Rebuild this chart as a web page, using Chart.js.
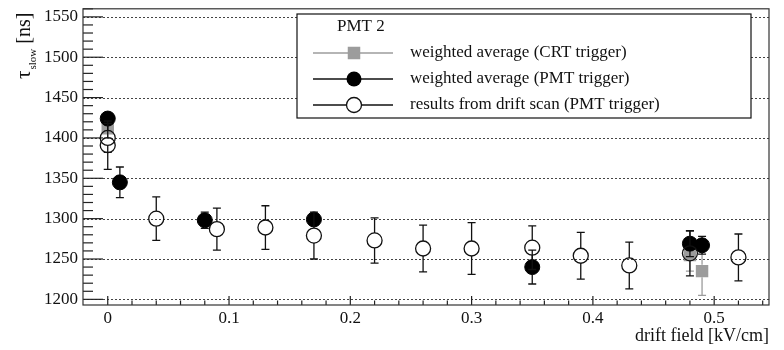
<!DOCTYPE html>
<html><head><meta charset="utf-8">
<script src="https://cdn.jsdelivr.net/npm/chart.js@4.4.0/dist/chart.umd.min.js"></script>
<style>html,body{margin:0;padding:0;background:#fff;}#wrap{width:784px;height:350px;position:relative;}</style>
</head><body><div id="wrap"><canvas id="c" width="784" height="350"></canvas></div>
<script>
// ---- data ----
const scanX   = [0, 0, 0.04, 0.09, 0.13, 0.17, 0.22, 0.26, 0.30, 0.35, 0.39, 0.43, 0.48, 0.52];
const scanY   = [1400, 1391, 1300, 1287, 1289, 1279, 1273, 1263, 1263, 1264, 1254, 1242, 1257, 1252];
const scanErr = [18, 30, 27, 26, 27, 29, 28, 29, 32, 27, 29, 29, 28, 29];

const pmtX   = [0, 0.01, 0.08, 0.17, 0.35, 0.48, 0.49];
const pmtY   = [1424, 1345, 1298, 1299, 1240, 1269, 1267];
const pmtErr = [6, 19, 10, 6, 21, 16, 11];

const crtX   = [0, 0.48, 0.49];
const crtY   = [1412, 1255, 1235];
const crtErr = [12, 20, 30];

const yTicks = [1200, 1250, 1300, 1350, 1400, 1450, 1500, 1550];
const xTicks = [0, 0.1, 0.2, 0.3, 0.4, 0.5];
const xTickLabels = ['0', '0.1', '0.2', '0.3', '0.4', '0.5'];
const legendHeader = 'PMT 2';
const legendLabels = ['weighted average (CRT trigger)', 'weighted average (PMT trigger)', 'results from drift scan (PMT trigger)'];
const xTitle = 'drift field [kV/cm]';
const yTitleMain = '\u03C4', yTitleSub = 'slow', yTitleUnit = ' [ns]';

const FONT = "'Liberation Serif', 'Times New Roman', serif";
const GRAY = '#9c9c9c';

function pts(xs, ys) { return xs.map((x, i) => ({ x: x, y: ys[i] })); }

const errorBars = {
  id: 'errorBars',
  beforeDatasetDraw(chart, args) {
    const ds = chart.data.datasets[args.index];
    const ys = chart.scales.y;
    const ctx = chart.ctx;
    ctx.save();
    ctx.strokeStyle = ds.errColor;
    ctx.lineWidth = 1.3;
    args.meta.data.forEach((el, i) => {
      const v = ds.data[i].y, e = ds.errors[i];
      const x = el.x, yc = el.y;
      const yt = ys.getPixelForValue(v + e), yb = ys.getPixelForValue(v - e);
      const g = ds.gap;
      ctx.beginPath();
      if (yt < yc - g) { ctx.moveTo(x, yt); ctx.lineTo(x, yc - g); ctx.moveTo(x - 4, yt); ctx.lineTo(x + 4, yt); }
      if (yb > yc + g) { ctx.moveTo(x, yc + g); ctx.lineTo(x, yb); ctx.moveTo(x - 4, yb); ctx.lineTo(x + 4, yb); }
      ctx.stroke();
    });
    ctx.restore();
  }
};

const frame = {
  id: 'frame',
  beforeDatasetsDraw(chart) {
    const { ctx, chartArea: a, scales: { x: xs, y: ys } } = chart;
    ctx.save();
    ctx.strokeStyle = '#444';
    ctx.lineWidth = 1;
    ctx.setLineDash([2, 2]);
    yTicks.forEach(v => {
      const y = Math.round(ys.getPixelForValue(v)) + 0.5;
      ctx.beginPath(); ctx.moveTo(a.left, y); ctx.lineTo(a.right, y); ctx.stroke();
    });
    ctx.setLineDash([]);
    ctx.strokeStyle = '#222';
    ctx.lineWidth = 1.2;
    for (let k = 0; k < yTicks.length; k++) {
      const v = yTicks[k];
      const y = ys.getPixelForValue(v);
      ctx.beginPath(); ctx.moveTo(a.left, y); ctx.lineTo(a.left + 20, y); ctx.stroke();
      for (let m = 1; m < 5; m++) {
        const mv = v + m * 10;
        if (mv > ys.max) break;
        const my = ys.getPixelForValue(mv);
        ctx.beginPath(); ctx.moveTo(a.left, my); ctx.lineTo(a.left + 10, my); ctx.stroke();
      }
    }
    for (let k = 0; k < xTicks.length; k++) {
      const v = xTicks[k];
      const x = xs.getPixelForValue(v);
      ctx.beginPath(); ctx.moveTo(x, a.bottom); ctx.lineTo(x, a.bottom - 9); ctx.stroke();
      for (let m = 1; m < 5; m++) {
        const mv = v + m * 0.02;
        if (mv > xs.max) break;
        const mx = xs.getPixelForValue(mv);
        ctx.beginPath(); ctx.moveTo(mx, a.bottom); ctx.lineTo(mx, a.bottom - 4.5); ctx.stroke();
      }
    }
    ctx.strokeStyle = '#333';
    ctx.strokeRect(a.left, a.top, a.right - a.left, a.bottom - a.top);
    ctx.restore();
  },
  afterDraw(chart) {
    const { ctx, chartArea: a } = chart;
    ctx.save();
    ctx.fillStyle = '#111';
    ctx.font = '18px ' + FONT;
    ctx.textAlign = 'right'; ctx.textBaseline = 'middle';
    ctx.fillText(xTitle, a.right, 336);
    ctx.translate(30, 79);
    ctx.rotate(-Math.PI / 2);
    ctx.textAlign = 'left'; ctx.textBaseline = 'alphabetic';
    ctx.font = '21px ' + FONT;
    ctx.fillText(yTitleMain, 0, 0);
    let w = ctx.measureText(yTitleMain).width;
    ctx.font = '11px ' + FONT;
    ctx.fillText(yTitleSub, w + 1, 6);
    w += 1 + ctx.measureText(yTitleSub).width;
    ctx.font = '20px ' + FONT;
    ctx.fillText(yTitleUnit, w, 0);
    ctx.restore();

    ctx.save();
    const L = 297, T = 14, R = 751, B = 118;
    ctx.fillStyle = '#fff';
    ctx.fillRect(L, T, R - L, B - T);
    ctx.strokeStyle = '#111'; ctx.lineWidth = 1.2;
    ctx.strokeRect(L, T, R - L, B - T);
    ctx.fillStyle = '#111';
    ctx.font = '17px ' + FONT;
    ctx.textAlign = 'left'; ctx.textBaseline = 'middle';
    ctx.fillText(legendHeader, 337, 27);
    const rows = [53, 79, 105];
    rows.forEach((ry, i) => {
      ctx.fillStyle = '#111';
      ctx.fillText(legendLabels[i], 410, ry);
      ctx.strokeStyle = i === 0 ? GRAY : '#111';
      ctx.lineWidth = 1.3;
      ctx.beginPath(); ctx.moveTo(313, ry); ctx.lineTo(393, ry); ctx.stroke();
      if (i === 0) { ctx.fillStyle = GRAY; ctx.fillRect(354 - 6.25, ry - 6.25, 12.5, 12.5); }
      else if (i === 1) { ctx.fillStyle = '#000'; ctx.beginPath(); ctx.arc(354, ry, 7.5, 0, 2 * Math.PI); ctx.fill(); }
      else { ctx.fillStyle = '#fff'; ctx.beginPath(); ctx.arc(354, ry, 7.5, 0, 2 * Math.PI); ctx.fill(); ctx.stroke(); }
    });
    ctx.restore();
  }
};

new Chart(document.getElementById('c'), {
  type: 'scatter',
  data: {
    datasets: [
      { label: legendLabels[2], data: pts(scanX, scanY), errors: scanErr, order: 0, gap: 7.5, errColor: '#111',
        pointStyle: 'circle', pointRadius: 7.5, pointBackgroundColor: 'rgba(0,0,0,0)', pointBorderColor: '#111', pointBorderWidth: 1.3 },
      { label: legendLabels[1], data: pts(pmtX, pmtY), errors: pmtErr, order: 1, gap: 7.5, errColor: '#111',
        pointStyle: 'circle', pointRadius: 7.5, pointBackgroundColor: '#000', pointBorderColor: '#000', pointBorderWidth: 1 },
      { label: legendLabels[0], data: pts(crtX, crtY), errors: crtErr, order: 2, gap: 6.25, errColor: GRAY,
        pointStyle: 'rect', pointRadius: 8.8, pointBackgroundColor: GRAY, pointBorderColor: GRAY, pointBorderWidth: 0 }
    ]
  },
  options: {
    responsive: false, animation: false, devicePixelRatio: 1,
    layout: { padding: { left: 0, right: 15, top: 7, bottom: 0 } },
    plugins: { legend: { display: false }, tooltip: { enabled: false } },
    scales: {
      x: {
        type: 'linear', min: -0.0204, max: 0.5452,
        afterBuildTicks: s => { s.ticks = xTicks.map(v => ({ value: v })); },
        afterFit: s => { s.height = 45; s.paddingLeft = 0; s.paddingRight = 0; },
        grid: { display: false, drawTicks: false }, border: { display: false },
        ticks: { padding: 3, maxRotation: 0, color: '#111', font: { family: FONT, size: 17 },
          callback: v => xTickLabels[xTicks.indexOf(v)] }
      },
      y: {
        type: 'linear', min: 1193, max: 1560,
        afterBuildTicks: s => { s.ticks = yTicks.map(v => ({ value: v })); },
        afterFit: s => { s.width = 83; s.paddingTop = 0; s.paddingBottom = 0; },
        grid: { display: false, drawTicks: false }, border: { display: false },
        ticks: { padding: 5, color: '#111', font: { family: FONT, size: 17 },
          callback: v => String(v) }
      }
    }
  },
  plugins: [errorBars, frame]
});
</script></body></html>
